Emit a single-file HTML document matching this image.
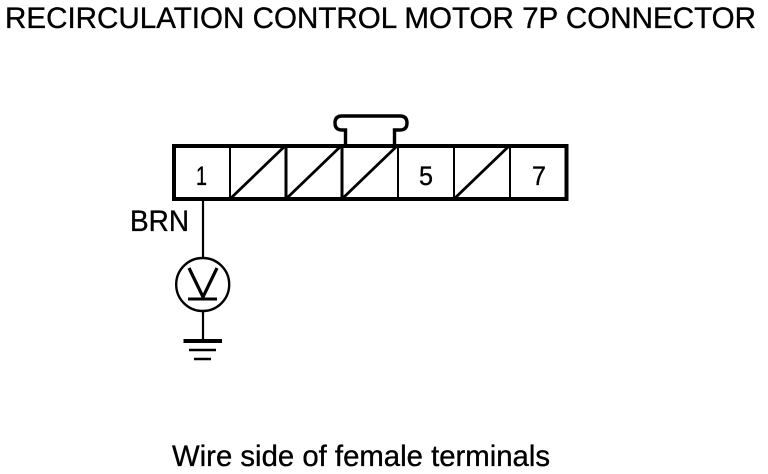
<!DOCTYPE html>
<html>
<head>
<meta charset="utf-8">
<style>
html,body{margin:0;padding:0;background:#fff;width:768px;height:474px;overflow:hidden}
svg{display:block}
text{font-family:"Liberation Sans",sans-serif;fill:#000;stroke:#000;stroke-width:.35px}
</style>
</head>
<body>
<svg width="768" height="474" viewBox="0 0 768 474" xmlns="http://www.w3.org/2000/svg">
<rect width="768" height="474" fill="#fff"/>
<text x="5" y="28" font-size="30" textLength="751" lengthAdjust="spacingAndGlyphs">RECIRCULATION CONTROL MOTOR 7P CONNECTOR</text>

<path d="M345.5 144V130H342Q335 130 335 123Q335 116 342 116H400Q407 116 407 123Q407 130 400 130H394.5V144" fill="#fff" stroke="#000" stroke-width="3.4"/>
<rect x="174" y="146" width="392.5" height="53" fill="#fff" stroke="#000" stroke-width="4"/>
<g stroke="#000" stroke-width="2" fill="none">
<path d="M230 146V199"/>
<path d="M398 146V199"/>
<path d="M510 146V199"/>
<path d="M454 146V199"/>
</g>
<g stroke="#000" stroke-width="3" fill="none">
<path d="M286 146V199"/>
<path d="M342 146V199"/>
</g>
<g stroke="#000" stroke-width="2.8" fill="none">
<path d="M231 198L285 146"/>
<path d="M287 198L341 146"/>
<path d="M343 198L397 146"/>
<path d="M455 198L509 146"/>
</g>
<text x="196" y="185" font-size="27" textLength="11" lengthAdjust="spacingAndGlyphs">1</text>
<text x="419" y="185" font-size="27" textLength="14" lengthAdjust="spacingAndGlyphs">5</text>
<text x="532" y="185" font-size="27" textLength="14" lengthAdjust="spacingAndGlyphs">7</text>

<text x="130" y="231" font-size="30" textLength="59" lengthAdjust="spacingAndGlyphs">BRN</text>
<path d="M203 200V258M203 311V340" stroke="#000" stroke-width="2.2" fill="none"/>
<circle cx="202.7" cy="284.5" r="26.5" fill="#fff" stroke="#000" stroke-width="2.4"/>
<path d="M189 268L203 297L217 268" stroke="#000" stroke-width="3.2" fill="none"/>
<path d="M188 299H217" stroke="#000" stroke-width="3" fill="none"/>
<path d="M183.5 341H222" stroke="#000" stroke-width="4" fill="none"/>
<path d="M189 350H216" stroke="#000" stroke-width="2.4" fill="none"/>
<path d="M194 359H211" stroke="#000" stroke-width="2.4" fill="none"/>

<text x="172" y="466" font-size="30" textLength="378" lengthAdjust="spacingAndGlyphs">Wire side of female terminals</text>
</svg>
</body>
</html>
